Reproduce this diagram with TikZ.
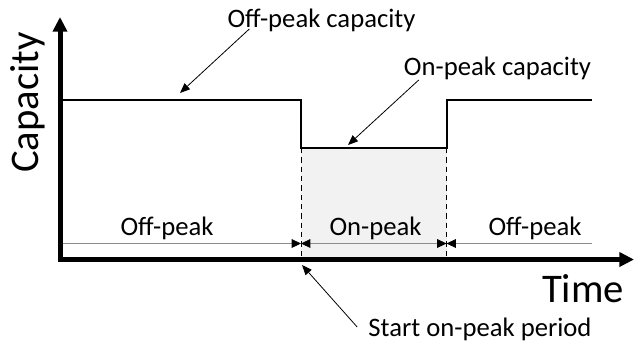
\documentclass[tikz,border=0pt]{standalone}
\usepackage{fontspec}
\setmainfont{Carlito}
\usetikzlibrary{arrows.meta,calc}

\tikzset{
  dim/.tip={Triangle[length=7pt,width=6.5pt,color=black]},
  axis/.style={line width=3.75pt,line join=miter,
    {Triangle[length=11pt,width=10.5pt]}-{Triangle[length=11pt,width=10.5pt]}},
  level/.style={line width=1.5pt},
  pointer/.style={line width=0.6pt,-{Triangle[length=7.5pt,width=6pt]}},
  span/.style={line width=0.6pt,draw=black!45},
  lbl/.style={font=\fontsize{20}{24}\selectfont,inner sep=0pt},
  big/.style={font=\fontsize{30.5}{36}\selectfont,inner sep=0pt}
}

\begin{document}
\begin{tikzpicture}[x=0.75pt,y=-0.75pt]
  \useasboundingbox (0,0) rectangle (634,344);

  % on-peak window
  \coordinate (A) at (301,148);
  \coordinate (B) at (446.5,148);
  \coordinate (A0) at (301,259.5);
  \coordinate (B0) at (446.5,259.5);
  \fill[black!5] (A) rectangle (B0);
  \draw[line width=0.75pt,dash pattern=on 4pt off 3pt] (A) -- (A0);
  \draw[line width=0.75pt,dash pattern=on 4pt off 3pt] (B) -- (B0);

  % capacity level
  \draw[level] (60,99.5) -- (301,99.5) -- (A) -- (B) -- (446.5,99.5) -- (592,99.5);

  % periods
  \coordinate (T0) at (60,243.5);
  \coordinate (T1) at (301,243.5);
  \coordinate (T2) at (446.5,243.5);
  \coordinate (T3) at (592,243.5);
  \draw[span,-dim] (T0) -- (T1);
  \draw[span,dim-dim] (T1) -- (T2);
  \draw[span,dim-] (T2) -- (T3);
  \node[lbl,anchor=base] (off1) at (167,235) {Off-peak};
  \node[lbl,anchor=base] (on) at (375.5,235) {On-peak};
  \node[lbl,anchor=base] (off2) at (535,235) {Off-peak};

  % axes
  \draw[axis] (60,17) -- (60,259.5) -- (634,259.5);
  \node[big,rotate=90,anchor=base] (cap) at (38,102.5) {Capacity};
  \node[big,anchor=base] (time) at (583,302) {Time};

  % callouts
  \node[lbl,anchor=base] (offcap) at (321.5,27) {Off-peak capacity};
  \node[lbl,anchor=base] (oncap) at (497.5,75) {On-peak capacity};
  \node[lbl,anchor=base] (start) at (480,336) {Start on-peak period};
  \coordinate (P1) at (180,93);
  \coordinate (P2) at (348,145);
  \coordinate (P3) at (302,265);
  \draw[pointer] ($(offcap.base west)+(22,2)$) -- (P1);
  \draw[pointer] ($(oncap.base west)+(15,5)$) -- (P2);
  \draw[pointer] ($(start.base west)+(-11,-9)$) -- (P3);
\end{tikzpicture}
\end{document}
